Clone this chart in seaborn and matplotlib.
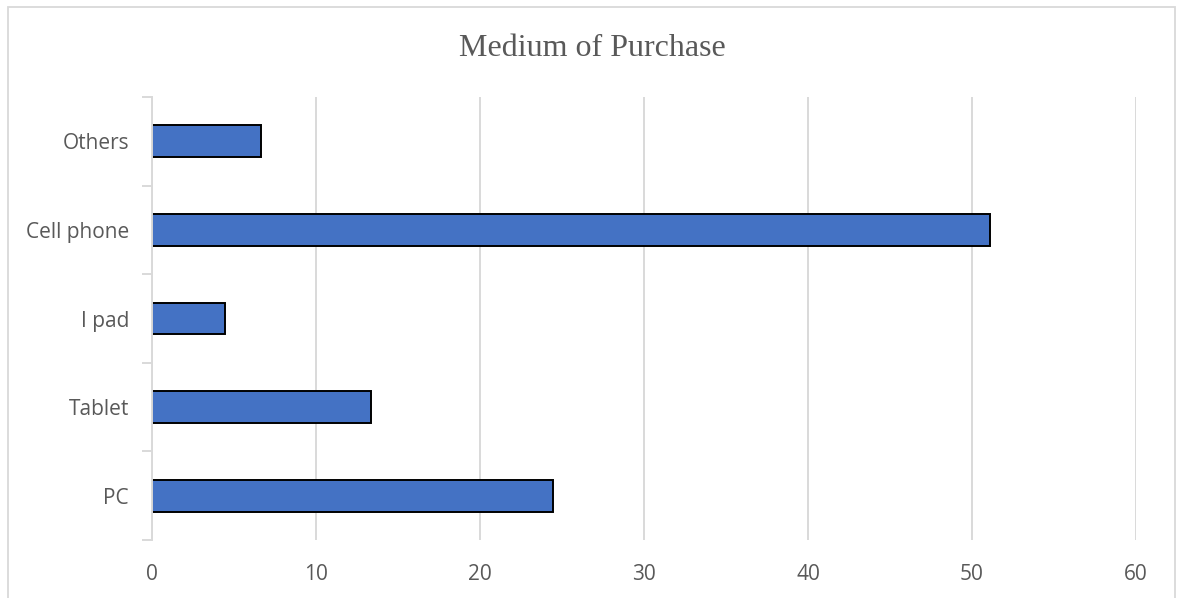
import matplotlib
matplotlib.use("Agg")
import matplotlib.pyplot as plt
from matplotlib.patches import Rectangle
from matplotlib.ticker import FixedLocator
import seaborn as sns
import pandas as pd

# Share of respondents by device used to make purchases (%)
categories = ["Others", "Cell phone", "I pad", "Tablet", "PC"]
shares = [6.67, 51.11, 4.44, 13.33, 24.44]
x_ticks = [0, 10, 20, 30, 40, 50, 60]

df = pd.DataFrame({"medium": categories, "share": shares})

sns.set_theme(style="white")
plt.rcParams["font.family"] = ["Open Sans", "DejaVu Sans"]

grid_col = "#d9d9d9"
text_col = "#595959"

fig = plt.figure(figsize=(11.78, 5.98), dpi=100)
ax = fig.add_axes([152 / 1178, 58 / 598, (1136 - 152) / 1178, (540 - 97) / 598])

sns.barplot(data=df, x="share", y="medium", order=categories, orient="h",
            color="#4472C4", saturation=1, width=0.36,
            edgecolor="black", linewidth=1.4, ax=ax, zorder=3)

ax.set_xlim(0, 60)
ax.set_ylim(len(categories) - 0.5, -0.5)
ax.set_xticks(x_ticks)
ax.set_xticklabels([str(t) for t in x_ticks])
ax.set_xlabel("")
ax.set_ylabel("")

# vertical gridlines
ax.xaxis.grid(True, color=grid_col, linewidth=1.4, zorder=0)
ax.yaxis.grid(False)
for s in ["top", "right", "bottom"]:
    ax.spines[s].set_visible(False)
ax.spines["left"].set_color(grid_col)
ax.spines["left"].set_linewidth(1.4)
ax.spines["left"].set_zorder(4)

# category-boundary ticks on the value axis
ax.yaxis.set_minor_locator(FixedLocator([i - 0.5 for i in range(len(categories) + 1)]))
ax.tick_params(axis="y", which="minor", length=7, width=1.4, color=grid_col, left=True)
ax.tick_params(axis="y", which="major", length=0, pad=16.5, labelsize=15, labelcolor=text_col)
ax.tick_params(axis="x", which="major", length=0, pad=17, labelsize=15, labelcolor=text_col)

fig.text(0.5025, 1 - 49 / 598, "Medium of Purchase", ha="center", va="center",
         fontsize=23, color=text_col, family=["Liberation Serif", "DejaVu Serif"])

# chart frame
fig.patches.append(Rectangle((8 / 1178, -0.05), (1175 - 8) / 1178, 1.05 - 7 / 598,
                             transform=fig.transFigure, fill=False,
                             edgecolor=grid_col, linewidth=1.3))

fig.savefig("out.png", dpi=100)
